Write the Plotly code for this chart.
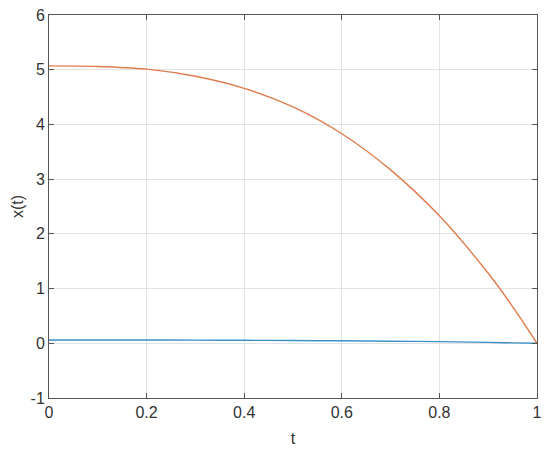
import plotly.graph_objects as go

t = [0, 0.1, 0.2, 0.3, 0.4, 0.5, 0.6, 0.7, 0.8, 0.9, 0.95, 1.0]
x_orange = [5.07, 5.06, 5.01, 4.88, 4.66, 4.32, 3.83, 3.17, 2.33, 1.28, 0.67, 0.0]
x_blue = [0.06, 0.06, 0.06, 0.058, 0.055, 0.05, 0.045, 0.038, 0.03, 0.016, 0.008, 0.0]

x_ticks = [0, 0.2, 0.4, 0.6, 0.8, 1]
y_ticks = [-1, 0, 1, 2, 3, 4, 5, 6]

fig = go.Figure()

fig.add_trace(go.Scatter(
    x=t, y=x_blue, mode="lines",
    line=dict(color="#3d8fc8", width=1.4, shape="spline"),
    showlegend=False
))
fig.add_trace(go.Scatter(
    x=t, y=x_orange, mode="lines",
    line=dict(color="#e07b4c", width=1.4, shape="spline"),
    showlegend=False
))

font = "Liberation Sans, Arial"
axis_style = dict(
    showline=True, linecolor="#555555", linewidth=1, mirror="ticks",
    ticks="inside", ticklen=5, tickcolor="#555555",
    showgrid=True, gridcolor="#e3e3e3", gridwidth=1,
    zeroline=False, automargin=False,
    tickfont=dict(family=font, size=16, color="#333333"),
)

fig.update_xaxes(range=[0, 1], tickvals=x_ticks, ticktext=[str(v) for v in x_ticks],
                 title=dict(text="t", font=dict(family=font, size=16, color="#333333"), standoff=12),
                 **axis_style)
fig.update_yaxes(range=[-1, 6], tickvals=y_ticks, ticktext=[str(v) for v in y_ticks],
                 title=dict(text="x(t)", font=dict(family=font, size=16, color="#333333"), standoff=2),
                 **axis_style)

fig.update_layout(
    width=550, height=453,
    margin=dict(l=49, r=13, t=15, b=55),
    plot_bgcolor="white", paper_bgcolor="white",
)

# drop the page's default body margin so the figure sits at the window corner
fig.write_html("out.html", config={"displayModeBar": False},
               post_script="document.body.style.margin='0';")
